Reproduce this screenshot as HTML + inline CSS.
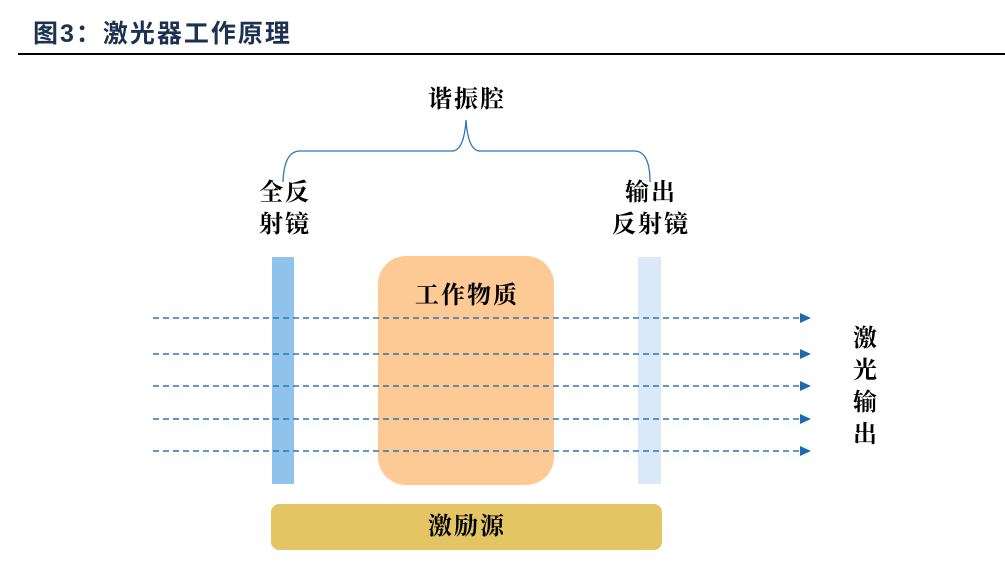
<!DOCTYPE html>
<html><head><meta charset="utf-8"><style>
body{margin:0;width:1005px;height:584px;background:#fff;overflow:hidden;position:relative;font-family:"Liberation Serif","Noto Serif CJK SC",serif;}
.t{position:absolute;font-weight:bold;color:#000;font-size:24px;letter-spacing:2px;line-height:32px;text-align:center;white-space:nowrap;transform:translateX(-50%)}
</style></head><body>
<div style="position:absolute;left:33px;top:14px;font-family:'Liberation Sans','Noto Sans CJK SC',sans-serif;font-weight:bold;font-size:25px;color:#1d3150;letter-spacing:2px">图3：激光器工作原理</div>
<div style="position:absolute;left:18px;top:53px;width:987px;height:2px;background:#000"></div>
<svg width="1005" height="584" style="position:absolute;left:0;top:0">
<path d="M283 182 Q284 151 300 151 L452 151 Q464 151 466 120 Q468 151 480 151 L634 151 Q650 151 650 182" fill="none" stroke="#2e75b6" stroke-width="1.3"/>
<rect x="272" y="257" width="22" height="227" fill="#8fc3ec"/>
<rect x="378" y="256" width="176" height="229" rx="28" fill="#fdc994"/>
<rect x="638" y="257" width="23" height="227" fill="#dbe8f7"/>
<rect x="271" y="504" width="391" height="46" rx="8" fill="#e3c663"/>
<g stroke="#2e75b6" stroke-width="1.5" stroke-dasharray="6,4">
<line x1="153" y1="318" x2="801" y2="318"/><line x1="153" y1="354" x2="801" y2="354"/><line x1="153" y1="386" x2="801" y2="386"/><line x1="153" y1="419" x2="801" y2="419"/><line x1="153" y1="451" x2="801" y2="451"/>
</g>
<g fill="#1f6aad">
<polygon points="800,313 811,318 800,323"/><polygon points="800,349 811,354 800,359"/><polygon points="800,381 811,386 800,391"/><polygon points="800,414 811,419 800,424"/><polygon points="800,446 811,451 800,456"/>
</g>
</svg>
<div class="t" style="left:467px;top:84px">谐振腔</div>
<div class="t" style="left:285px;top:177px">全反<br>射镜</div>
<div class="t" style="left:651px;top:177px">输出<br>反射镜</div>
<div class="t" style="left:467px;top:280px">工作物质</div>
<div class="t" style="left:467px;top:511px">激励源</div>
<div class="t" style="left:866px;top:323px;line-height:32px">激<br>光<br>输<br>出</div>
</body></html>
